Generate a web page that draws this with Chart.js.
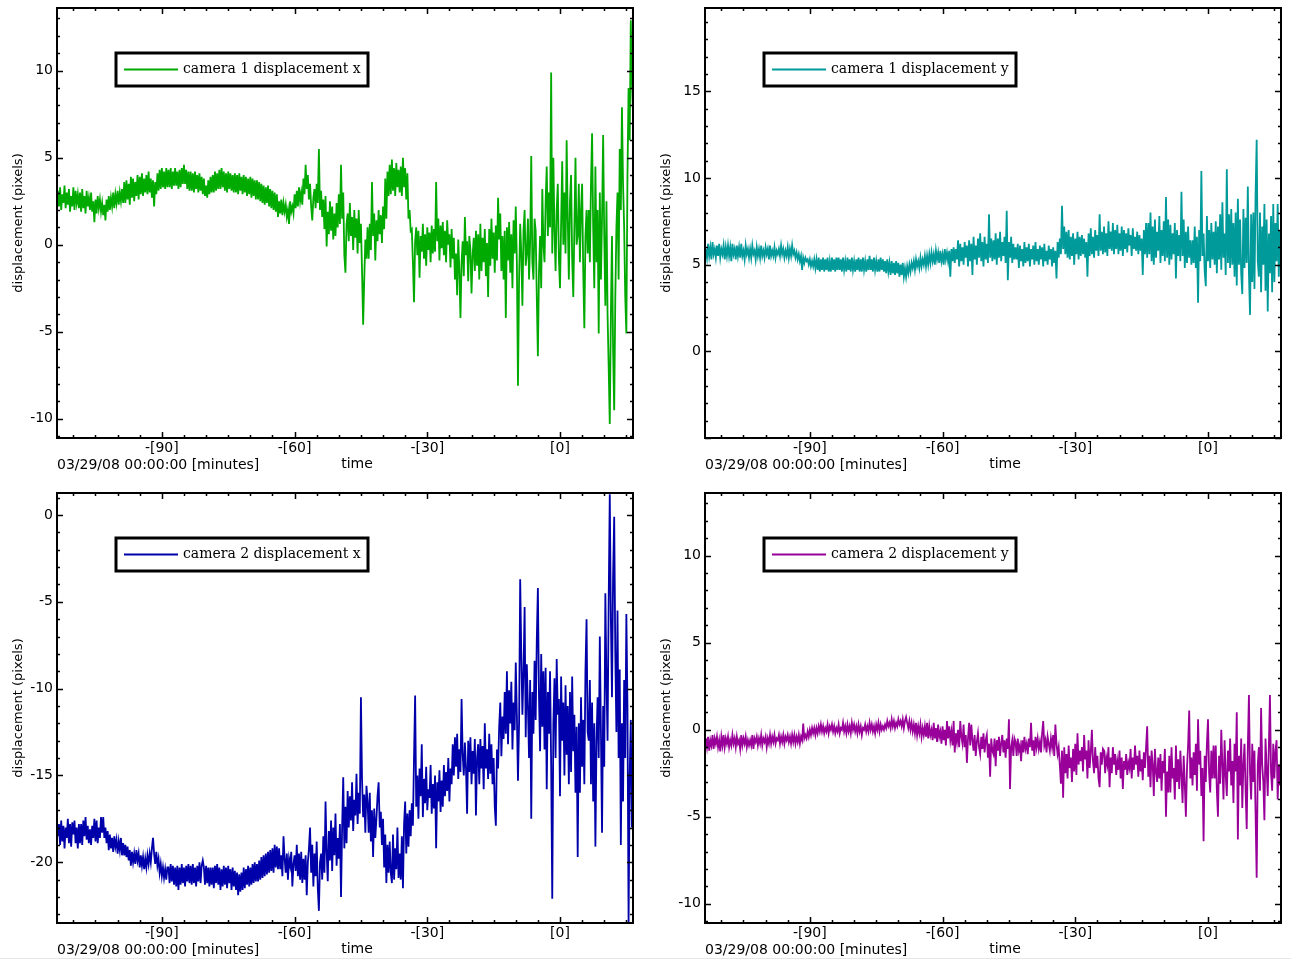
<!DOCTYPE html>
<html>
<head>
<meta charset="utf-8">
<script src="https://cdn.jsdelivr.net/npm/chart.js@4/dist/chart.umd.min.js"></script>
<style>
  html, body { margin: 0; padding: 0; background: #fff; }
  body { width: 1291px; height: 961px; position: relative; overflow: hidden; }
  canvas { position: absolute; }
  #c1 { left: 0; top: 0; }
  #c2 { left: 648px; top: 0; }
  #c3 { left: 0; top: 485px; }
  #c4 { left: 648px; top: 485px; }
  #edge { position: absolute; left: 0; top: 958px; width: 1291px; height: 1px; background: #e6e6e6; }
</style>
</head>
<body>
<canvas id="c1" width="640" height="475"></canvas>
<canvas id="c2" width="640" height="475"></canvas>
<canvas id="c3" width="640" height="475"></canvas>
<canvas id="c4" width="640" height="475"></canvas>
<div id="edge"></div>
<script>
// ---- time axis (minutes relative to 03/29/08 00:00:00) ----
const timeStart = -113.5;   // first sample
const timeStep = 0.25;      // one sample every 15 s
const xTickValues = [-90, -60, -30, 0];
const xRange = [-113.7, 16.5];
const xUnitLabel = '03/29/08 00:00:00 [minutes]';
const xTitle = 'time';
const yTitle = 'displacement (pixels)';

// ---- series labels ----
const seriesLabels = ['camera 1 displacement x', 'camera 1 displacement y', 'camera 2 displacement x', 'camera 2 displacement y'];

// ---- y tick labels per panel ----
const yTicks1 = [-10, -5, 0, 5, 10];
const yTicks2 = [0, 5, 10, 15];
const yTicks3 = [-20, -15, -10, -5, 0];
const yTicks4 = [-10, -5, 0, 5, 10];

// ---- series values (each row = 5 minutes, 20 samples) ----
const cam1X = [
  3.1, 2.2, 3.3, 2.0, 2.9, 2.4, 3.4, 2.1, 3.0, 2.3, 3.2, 1.9, 2.8, 2.2, 3.3, 2.0, 3.1, 2.4, 2.9, 2.1,
  3.0, 1.9, 3.2, 2.1, 2.8, 1.8, 3.1, 2.2, 2.7, 2.0, 3.0, 1.9, 2.5, 1.3, 2.6, 1.8, 2.8, 2.1, 2.6, 1.9,
  2.4, 1.7, 2.3, 1.4, 2.6, 1.9, 2.8, 2.0, 2.7, 2.2, 3.0, 2.1, 2.9, 2.4, 3.1, 2.3, 3.0, 2.5, 3.2, 2.4,
  3.6, 2.4, 3.7, 2.6, 3.5, 2.3, 3.9, 2.7, 3.8, 2.5, 3.6, 2.8, 4.0, 2.6, 3.9, 2.9, 4.1, 2.8, 3.8, 3.0,
  4.0, 2.9, 4.2, 3.0, 3.8, 2.7, 3.7, 2.2, 3.6, 2.9, 4.1, 3.1, 4.3, 3.2, 4.4, 3.3, 4.2, 3.2, 4.4, 3.3,
  4.3, 3.3, 4.4, 3.2, 4.2, 3.4, 4.4, 3.4, 4.2, 3.2, 4.3, 3.3, 4.4, 3.5, 4.6, 3.5, 4.3, 3.2, 4.2, 3.1,
  4.2, 3.1, 4.1, 3.0, 4.2, 3.2, 4.0, 3.0, 4.1, 3.1, 3.9, 2.9, 3.8, 2.8, 3.4, 2.7, 3.7, 2.9, 3.9, 3.0,
  4.0, 3.0, 4.2, 3.1, 4.1, 3.2, 4.3, 3.2, 4.4, 3.3, 4.2, 3.1, 4.1, 3.0, 4.2, 3.2, 4.1, 3.1, 4.0, 3.0,
  4.1, 3.0, 4.0, 2.9, 4.1, 3.1, 3.9, 2.9, 4.0, 3.0, 3.9, 2.8, 3.8, 2.9, 3.9, 2.7, 3.8, 2.8, 3.7, 2.6,
  3.7, 2.6, 3.6, 2.5, 3.5, 2.4, 3.4, 2.3, 3.3, 2.4, 3.4, 2.2, 3.2, 2.1, 3.1, 2.0, 3.0, 1.9, 2.9, 1.6,
  2.5, 1.8, 2.6, 1.7, 2.4, 1.9, 2.3, 1.6, 2.0, 1.2, 2.5, 1.9, 2.2, 1.8, 2.9, 2.1, 3.1, 2.2, 3.3, 2.5,
  3.0, 2.3, 3.8, 2.9, 4.6, 3.2, 4.0, 2.6, 3.5, 2.2, 1.4, 2.7, 3.2, 2.1, 3.5, 2.4, 5.5, 2.0, 3.1, 1.6,
  2.6, 0.9, 2.8, -0.1, 1.9, 0.6, 2.5, 0.8, 2.2, 0.3, 1.8, 0.5, 2.4, 1.0, 2.9, 1.2, 4.6, 1.5, 3.0, -0.6,
  -1.6, 1.2, 1.8, 0.2, 2.4, 0.5, 1.6, -0.3, 2.0, 0.4, 1.5, -0.5, 2.0, 0.1, 1.2, -1.5, -4.6, -2.0, 0.3, -0.8,
  1.0, -0.8, 1.2, -0.3, 3.6, 0.5, 1.8, -0.9, 1.4, 0.2, 2.0, 0.6, 1.7, 0.1, 2.2, 0.9, 3.8, 1.5, 4.2, 2.8,
  4.6, 2.9, 4.9, 3.1, 4.4, 2.8, 4.7, 3.3, 4.3, 3.0, 4.5, 2.8, 5.0, 3.3, 4.4, 2.6, 4.1, 1.5, 2.0, 0.8,
  0.9, -1.0, -3.3, 0.2, 1.0, -0.6, 0.8, -1.9, 0.5, -0.4, 1.2, -0.8, 0.6, -1.2, 1.0, -0.3, 0.7, -1.0, 1.1, -0.5,
  0.9, -0.4, 3.6, 0.2, 1.5, -0.9, 1.1, -0.2, 1.3, -0.6, 0.8, -1.0, 1.4, 0.0, 0.6, -1.3, 0.9, -0.8, 0.4, -2.0,
  -0.5, -2.9, 0.3, -1.5, -4.2, -1.0, 0.2, -1.8, 1.6, -0.6, 0.2, -2.1, 0.5, -0.3, -2.8, -0.6, 0.4, -1.5, 0.8, -1.2,
  0.6, -2.0, 1.2, -1.5, 0.4, -1.0, 0.9, -1.8, 0.1, -3.0, 0.9, -1.2, 1.5, -0.8, 0.7, -1.6, 1.1, -0.9, 2.7, 0.3,
  1.8, -1.5, 0.5, -2.0, 0.8, -4.2, 1.0, -0.9, 1.3, -1.6, 0.6, -2.5, 1.4, -0.5, 2.2, -1.0, -8.1, -2.0, 1.2, -0.5,
  -3.5, 0.8, 2.0, -1.2, -0.5, 1.5, -2.0, 0.2, 5.1, -1.0, -2.0, 1.5, 0.8, -3.0, -6.4, -1.5, 0.5, -2.5, 3.2, 0.0,
  -1.0, 2.5, 4.5, 0.5, 3.0, 1.0, 9.9, -0.5, 5.0, 0.8, -1.5, 2.0, 3.5, -0.8, -2.5, 1.2, 4.8, 0.0, 3.0, -0.5,
  6.0, 1.5, -2.0, 2.5, 4.0, -0.8, -3.0, 1.0, 5.0, 0.0, 0.5, 3.5, -1.0, 2.0, 3.5, -1.5, -4.8, 0.5, 2.0, -0.5,
  2.0, -1.0, 3.5, 6.4, 1.0, -2.5, 4.5, -1.0, 2.0, -5.1, 3.0, -2.0, 1.5, 6.3, 0.5, -3.5, 2.5, -4.0, -7.0, -10.3,
  -4.0, 0.5, -6.0, -9.5, -3.0, 1.0, 3.0, -2.0, 5.5, 2.0, 7.9, 3.5, 1.0, -3.0, -5.1, 4.0, 9.0, 6.0, 12.9, 9.5,
  7.5
];
const cam1Y = [
  5.9, 5.4, 6.2, 5.5, 6.0, 5.3, 6.3, 5.6, 5.9, 5.4, 6.1, 5.5, 6.2, 5.4, 5.9, 5.6, 6.1, 5.3, 6.0, 5.5,
  6.1, 5.5, 6.0, 5.2, 6.2, 5.6, 5.9, 5.3, 6.1, 5.5, 6.0, 5.4, 6.2, 5.5, 5.8, 5.3, 6.1, 5.6, 5.9, 5.4,
  5.9, 5.4, 6.1, 5.6, 5.8, 5.3, 6.0, 5.5, 5.9, 5.4, 6.1, 5.5, 5.8, 5.4, 6.0, 5.6, 5.9, 5.3, 6.1, 5.5,
  5.8, 5.5, 6.0, 5.4, 5.8, 5.6, 5.9, 5.5, 6.1, 5.6, 5.9, 5.4, 5.8, 5.5, 6.0, 5.4, 5.9, 5.5, 6.1, 5.6,
  5.8, 5.4, 5.7, 5.3, 5.6, 5.2, 5.5, 4.7, 5.4, 5.1, 5.4, 5.2, 5.3, 5.0, 5.3, 4.9, 5.2, 4.9, 5.3, 4.8,
  5.3, 4.7, 5.4, 4.6, 5.3, 4.7, 5.4, 4.6, 5.3, 4.7, 5.4, 4.6, 5.2, 4.6, 5.4, 4.7, 5.3, 4.6, 5.4, 4.7,
  5.4, 4.7, 5.3, 4.6, 5.4, 4.7, 5.2, 4.6, 5.4, 4.7, 5.3, 4.6, 5.4, 4.7, 5.2, 4.6, 5.3, 4.7, 5.4, 4.6,
  5.3, 4.6, 5.4, 4.7, 5.2, 4.6, 5.3, 4.7, 5.5, 4.7, 5.3, 4.6, 5.4, 4.7, 5.2, 4.6, 5.3, 4.6, 5.4, 4.7,
  5.3, 4.6, 5.2, 4.5, 5.3, 4.6, 5.1, 4.4, 5.2, 4.5, 5.1, 4.4, 5.2, 4.5, 5.1, 4.3, 5.0, 4.4, 5.1, 4.3,
  4.8, 4.3, 4.9, 4.5, 5.0, 4.6, 5.1, 4.8, 5.2, 4.7, 5.3, 4.9, 5.2, 4.8, 5.4, 4.9, 5.3, 5.0, 5.5, 4.9,
  5.5, 5.0, 5.6, 5.1, 5.7, 5.2, 5.6, 5.0, 5.8, 5.3, 5.7, 5.1, 5.8, 5.2, 5.6, 5.0, 5.9, 5.3, 5.7, 5.2,
  5.8, 4.3, 5.9, 5.2, 6.0, 5.1, 5.9, 5.3, 6.4, 4.9, 6.2, 5.2, 6.0, 5.0, 6.3, 5.4, 6.1, 4.9, 6.4, 5.2,
  6.2, 4.4, 6.6, 5.3, 6.1, 5.0, 6.5, 5.4, 6.8, 5.2, 6.3, 4.9, 6.6, 5.3, 6.2, 5.1, 7.9, 5.4, 6.5, 5.2,
  6.4, 5.3, 6.8, 5.0, 6.5, 5.4, 6.9, 5.2, 6.3, 5.5, 6.6, 5.1, 8.1, 4.1, 6.3, 5.4, 6.6, 5.1, 6.2, 5.3,
  6.0, 5.3, 6.2, 4.8, 6.1, 5.2, 5.9, 4.9, 6.3, 5.1, 6.0, 5.2, 6.2, 4.9, 5.9, 5.3, 6.1, 5.0, 6.3, 5.2,
  5.9, 5.0, 6.1, 5.3, 6.0, 4.9, 6.2, 5.2, 5.8, 5.0, 6.1, 5.3, 5.9, 4.9, 6.0, 5.1, 5.8, 4.2, 6.3, 5.4,
  6.5, 5.6, 8.4, 5.9, 7.2, 5.6, 6.9, 5.4, 7.0, 5.3, 6.6, 5.5, 6.8, 5.0, 6.5, 5.6, 6.9, 5.3, 6.6, 5.5,
  6.7, 5.6, 6.5, 5.4, 6.3, 4.3, 6.8, 5.5, 7.1, 5.6, 6.6, 5.4, 7.0, 5.8, 6.7, 5.5, 7.9, 5.8, 6.9, 5.6,
  7.2, 5.7, 6.8, 5.5, 7.5, 5.9, 6.9, 5.8, 7.4, 5.6, 7.0, 5.9, 7.3, 5.6, 6.8, 5.8, 7.2, 5.5, 7.0, 5.9,
  6.8, 5.7, 7.1, 6.1, 6.7, 5.5, 7.1, 5.9, 6.6, 5.8, 6.9, 5.6, 6.7, 5.8, 6.5, 4.4, 7.0, 5.6, 7.4, 5.4,
  7.4, 5.6, 8.0, 5.2, 7.2, 5.0, 7.6, 5.4, 6.9, 5.8, 7.8, 5.1, 7.0, 5.5, 7.5, 5.2, 8.9, 5.4, 7.6, 5.0,
  7.3, 5.3, 6.8, 5.6, 7.4, 4.2, 7.0, 5.5, 6.7, 5.2, 9.2, 5.5, 7.6, 4.8, 6.9, 5.1, 7.2, 5.4, 6.4, 5.0,
  6.4, 5.1, 7.2, 4.8, 6.6, 2.8, 7.0, 5.2, 10.4, 5.5, 6.8, 4.6, 3.75, 7.8, 5.2, 7.0, 4.8, 7.4, 5.3, 6.9,
  5.0, 7.5, 4.5, 7.2, 5.3, 7.9, 4.7, 8.6, 5.4, 6.8, 4.4, 10.5, 5.1, 7.9, 4.8, 8.2, 5.0, 7.4, 4.3, 8.0,
  3.8, 8.8, 5.0, 7.6, 4.5, 3.3, 8.2, 4.8, 7.7, 5.1, 9.5, 4.5, 2.1, 7.9, 4.0, 8.0, 3.6, 9.0, 12.2, 5.2,
  4.3, 8.0, 3.4, 7.2, 5.0, 8.5, 3.5, 7.6, 2.3, 6.8, 4.5, 7.8, 3.4, 8.5, 4.0, 7.4, 5.2, 8.5, 4.3, 7.0,
  5.5
];
const cam2X = [
  -18.5, -17.8, -19.0, -17.6, -18.8, -17.9, -19.2, -18.0, -18.6, -17.5, -18.9, -17.8, -19.1, -17.7, -18.4, -17.6, -18.9, -18.0, -19.2, -17.8,
  -18.9, -17.8, -19.0, -17.6, -18.5, -17.4, -18.7, -17.9, -18.9, -18.1, -19.0, -17.9, -18.6, -17.5, -18.8, -17.6, -18.9, -18.0, -18.6, -17.4,
  -18.3, -17.4, -18.6, -18.0, -18.9, -18.2, -19.3, -18.4, -19.2, -18.6, -19.4, -18.5, -19.1, -18.7, -19.5, -18.8, -19.3, -18.6, -19.6, -18.9,
  -19.6, -19.0, -19.7, -19.1, -19.9, -19.3, -20.2, -19.4, -20.0, -19.5, -20.1, -19.3, -19.9, -19.5, -20.3, -19.6, -20.2, -19.7, -20.4, -19.8,
  -20.3, -19.6, -20.1, -19.5, -20.0, -19.2, -18.6, -19.5, -20.1, -19.4, -20.2, -19.8, -20.6, -20.1, -20.8, -20.3, -20.9, -20.4, -21.0, -20.3,
  -20.3, -21.2, -20.1, -21.1, -20.2, -21.3, -20.3, -21.4, -20.2, -21.6, -20.3, -21.3, -20.1, -21.2, -20.3, -21.4, -20.2, -21.1, -20.1, -21.2,
  -20.2, -21.3, -20.1, -21.2, -20.3, -21.4, -20.2, -21.1, -20.0, -21.2, -20.2, -19.9, -20.3, -21.3, -20.2, -21.2, -20.3, -21.4, -20.3, -21.3,
  -20.3, -21.5, -20.2, -21.2, -20.1, -21.3, -20.3, -21.6, -20.4, -21.4, -20.2, -21.3, -20.3, -21.5, -20.2, -21.2, -20.4, -21.6, -20.3, -21.4,
  -20.5, -21.6, -20.6, -21.9, -20.7, -21.7, -20.6, -21.6, -20.3, -21.5, -20.4, -21.3, -20.2, -21.4, -20.3, -21.3, -20.1, -21.2, -20.0, -21.1,
  -20.1, -21.1, -19.9, -21.0, -19.7, -20.9, -19.6, -20.8, -19.5, -20.7, -19.4, -20.6, -19.3, -20.5, -19.2, -20.6, -19.0, -20.3, -19.1, -20.4,
  -19.2, -20.4, -19.6, -20.8, -18.5, -19.8, -20.6, -19.5, -21.0, -19.8, -20.2, -19.4, -21.4, -20.1, -19.6, -20.5, -19.0, -20.8, -19.5, -21.0,
  -19.4, -21.2, -19.8, -21.0, -19.6, -21.9, -20.0, -19.2, -18.0, -20.6, -19.0, -21.4, -19.5, -20.8, -18.8, -21.5, -22.8, -20.0, -19.5, -21.0,
  -18.5, -20.6, -16.5, -19.4, -21.1, -18.2, -19.9, -17.6, -20.5, -18.0, -19.6, -17.2, -20.2, -18.6, -19.8, -17.8, -22.0, -18.0, -15.1, -19.2,
  -16.8, -18.9, -15.9, -18.0, -16.2, -17.6, -15.4, -18.2, -16.4, -17.3, -14.9, -17.8, -16.0, -17.2, -10.5, -15.2, -17.4, -16.1, -18.3, -15.6,
  -16.5, -18.3, -16.0, -18.8, -17.0, -19.7, -16.9, -18.6, -17.5, -16.2, -15.4, -18.0, -17.1, -19.0, -17.5, -20.3, -18.4, -21.2, -19.0, -20.6,
  -18.8, -20.6, -21.2, -18.4, -21.0, -19.2, -20.4, -18.0, -20.9, -19.5, -21.0, -18.5, -21.5, -17.8, -16.5, -19.5, -17.2, -19.1, -17.0, -18.5,
  -16.6, -17.9, -14.0, -10.4, -16.8, -15.0, -17.5, -14.6, -16.2, -13.2, -17.4, -15.2, -16.6, -14.5, -17.0, -15.8, -16.3, -14.4, -17.2, -15.5,
  -16.9, -15.0, -19.2, -15.4, -16.5, -14.7, -17.1, -15.3, -16.8, -14.4, -16.2, -14.8, -15.9, -14.0, -16.5, -14.6, -15.5, -13.2, -15.0, -12.8,
  -14.5, -12.6, -15.2, -13.5, -14.8, -10.6, -13.8, -15.0, -13.1, -14.6, -17.2, -13.0, -14.8, -12.8, -15.5, -13.6, -14.9, -12.9, -17.3, -14.0,
  -13.2, -15.5, -12.9, -14.6, -13.3, -15.8, -12.0, -14.6, -13.5, -15.2, -12.6, -14.9, -13.2, -15.5, -14.0, -16.8, -17.9, -13.5, -14.6, -12.2,
  -10.8, -13.9, -11.6, -12.9, -10.2, -12.6, -9.0, -13.2, -10.1, -12.0, -9.6, -13.5, -10.8, -12.4, -8.5, -11.5, -15.3, -12.0, -3.7, -8.0,
  -11.5, -9.0, -5.3, -12.8, -8.6, -11.0, -14.0, -9.5, -17.5, -10.2, -12.6, -8.4, -11.8, -7.2, -4.2, -10.5, -13.6, -8.0, -12.2, -9.0,
  -13.5, -8.8, -15.8, -10.2, -12.6, -9.0, -14.4, -22.1, -12.0, -9.4, -14.0, -8.3, -11.5, -10.6, -16.2, -9.3, -13.0, -10.8, -15.0, -9.8,
  -13.8, -11.0, -15.5, -10.2, -14.8, -9.3, -13.6, -11.5, -16.0, -12.2, -19.7, -12.0, -16.0, -10.5, -14.5, -11.8, -15.5, -9.0, -6.0, -12.5,
  -13.0, -9.5, -15.5, -10.8, -16.5, -12.0, -19.1, -13.0, -10.5, -14.0, -7.0, -12.5, -18.3, -11.0, -14.5, -4.5, -9.5, -13.0, -5.0, 1.2,
  -6.0, -10.5, -3.5, -0.1, -8.0, -12.5, -5.5, -14.0, -8.9, -19.0, -12.0, -16.5, -9.5, -14.0, -5.7, -11.0, -23.5, -15.0, -11.8, -18.0,
  -17.0
];
const cam2Y = [
  -0.5, -1.0, -0.4, -1.2, -0.6, -0.9, -0.3, -1.1, -0.5, -0.8, -0.4, -1.0, -0.6, -1.25, -0.4, -0.9, -0.3, -1.0, -0.5, -0.8,
  -0.4, -1.0, -0.6, -0.9, -0.3, -0.8, -0.5, -1.0, -0.4, -0.8, -0.6, -1.1, -0.3, -0.9, -0.5, -0.8, -0.4, -1.0, -0.6, -0.9,
  -0.6, -0.9, -0.3, -1.1, -0.5, -0.7, -0.4, -0.9, -0.5, -0.8, -0.3, -0.9, -0.5, -0.7, -0.4, -1.0, -0.5, -0.8, -0.3, -0.8,
  -0.4, -0.7, -0.3, -0.8, -0.5, -0.6, -0.3, -0.8, -0.4, -0.7, -0.3, -0.8, -0.4, -0.6, -0.3, -0.7, -0.4, -0.8, -0.3, -0.7,
  -0.3, -0.8, -0.4, -0.7, -0.3, -0.8, -0.4, -0.6, 0.35, -0.5, -0.3, -0.5, -0.1, -0.4, 0.0, -0.3, 0.1, -0.2, 0.1, -0.3,
  0.1, -0.2, 0.2, -0.1, 0.3, -0.1, 0.2, -0.2, 0.1, -0.1, 0.3, -0.2, 0.2, 0.0, 0.3, -0.1, 0.2, -0.2, 0.1, -0.1,
  0.3, -0.2, 0.1, 0.0, 0.4, -0.1, 0.2, -0.2, 0.3, -0.1, 0.2, -0.2, 0.4, 0.0, 0.3, -0.1, 0.2, -0.2, 0.3, -0.1,
  0.2, -0.3, 0.1, 0.0, 0.3, -0.1, 0.2, -0.1, 0.4, 0.0, 0.3, -0.1, 0.2, -0.2, 0.3, 0.0, 0.4, -0.1, 0.3, 0.0,
  0.2, 0.0, 0.3, 0.1, 0.5, 0.2, 0.4, 0.1, 0.6, 0.2, 0.5, 0.1, 0.4, 0.2, 0.6, 0.3, 0.5, 0.2, 0.6, 0.1,
  0.5, 0.73, 0.4, 0.1, 0.5, 0.0, 0.4, -0.1, 0.3, -0.2, 0.4, -0.3, 0.2, -0.2, 0.3, -0.4, 0.1, -0.3, 0.2, -0.4,
  0.4, -0.5, 0.2, -0.3, 0.0, -0.6, 0.4, -0.5, 0.1, -0.7, 0.3, -0.4, -0.1, -0.8, 0.2, -0.6, 0.0, -0.9, 0.5, -0.5,
  0.2, -0.6, -0.1, -0.9, 0.5, -1.3, -0.2, -0.7, 0.0, -1.0, 0.5, -0.4, -0.8, 0.3, -1.0, -0.3, -1.9, -0.5, 0.4, -0.9,
  0.3, -0.6, -1.2, -0.3, -1.5, -0.7, -0.2, -1.0, -1.4, -0.4, -1.1, -0.2, -1.3, -0.6, -0.3, -1.6, -0.8, -2.7, -0.5, -1.2,
  -1.4, -0.5, -2.1, -0.6, -1.2, -0.4, -1.5, -0.8, -0.3, -1.3, -0.6, -1.6, -0.5, -1.1, 0.6, -3.4, -1.0, -0.6, -1.5, -0.5,
  -0.7, -1.5, -0.5, -1.2, -0.9, -1.8, -0.6, -1.3, -0.4, -1.1, -0.8, -1.4, -0.5, -1.0, 0.4, -1.2, -0.6, -1.5, -0.4, -1.0,
  -0.5, -1.1, -0.7, -1.3, -0.2, 0.5, -0.9, -0.6, -1.3, -0.4, -0.8, -1.2, -0.5, -1.0, -0.3, -1.5, 0.3, -0.8, -1.4, -1.0,
  -2.0, -3.1, -1.2, -3.9, -1.0, -2.5, -1.4, -2.8, -0.9, -2.2, -1.6, -3.0, -1.1, -2.4, -0.8, -2.6, -0.2, -2.0, -1.2, -1.8,
  -1.0, -2.4, -0.3, -1.7, -1.2, -2.8, -0.6, -2.2, -1.3, 0.0, -1.8, -2.5, -1.0, -2.2, -1.5, -2.8, -3.3, -1.3, -2.0, -1.1,
  -1.2, -2.5, -1.6, -2.0, -1.0, -3.3, -1.6, -2.5, -1.0, -2.0, -1.4, -2.6, -1.8, -2.3, -1.2, -2.8, -1.6, -3.4, -1.8, -2.3,
  -1.4, -2.6, -1.9, -2.2, -1.1, -2.8, -1.6, -2.3, -0.9, -2.0, -1.5, -2.7, -1.2, -2.4, -1.7, -2.9, -1.3, -2.2, -1.0, 0.2,
  -2.7, -1.5, -3.3, -1.2, -2.0, -3.8, -1.1, -2.4, -3.0, -1.6, -2.8, -1.4, -3.5, -1.8, -2.5, -1.1, -5.0, -2.4, -3.6, -1.5,
  -3.6, -1.0, -2.8, -2.2, -4.0, -0.9, -3.0, -1.7, -3.4, -1.2, -2.6, -4.2, -1.5, -3.1, -5.0, -2.2, -0.9, 1.1, -2.8, -1.6,
  -3.2, -1.3, -2.6, -0.8, -3.5, 0.6, -2.0, -1.2, -3.8, -2.2, -6.4, -1.5, -3.0, -0.8, 0.6, -2.5, -3.6, -1.2, -2.8, -0.9,
  -2.8, -0.9, -3.5, -5.0, -1.5, -3.1, 0.0, -2.0, -4.0, -0.6, -2.6, -3.8, -1.2, -2.4, -0.5, -3.2, -1.8, -4.2, -0.8, -2.4,
  1.0, -6.3, -1.5, -3.2, -0.5, -4.5, -2.0, -0.8, -3.5, -5.7, -1.0, 2.0, -2.5, -4.0, -0.8, -3.0, -1.2, -4.8, -8.5, -2.0,
  -1.0, -3.5, 1.25, -2.0, -3.0, -5.2, -0.5, -2.2, -3.8, -1.0, 2.0, -2.5, -3.5, -0.8, -2.8, -1.2, -0.6, -4.0, -2.0, -3.2,
  -1.5
];

const seriesColors = ['#00aa00', '#009a9a', '#0000aa', '#990099'];

const tickFont = { family: 'DejaVu Sans', size: 14 };
const titleFont = { family: 'DejaVu Sans', size: 13 };
const legendFont = '14px "DejaVu Serif"';
const footFont = '14px "DejaVu Sans"';

function fmtX(v) { return v < 0 ? '-[' + Math.abs(v) + ']' : '[' + v + ']'; }

const framePlugin = {
  id: 'frame',
  afterDatasetsDraw(chart) {
    const ctx = chart.ctx;
    const a = chart.chartArea;
    const xs = chart.scales.x, ys = chart.scales.y;
    ctx.save();
    ctx.strokeStyle = '#000';
    ctx.lineWidth = 1.5;
    ctx.beginPath();
    for (let v = Math.ceil(xs.min / 5) * 5; v <= xs.max; v += 5) {
      const len = xTickValues.includes(v) ? 6 : 3;
      const px = Math.round(xs.getPixelForValue(v)) + 0.5;
      ctx.moveTo(px, a.bottom); ctx.lineTo(px, a.bottom - len);
      ctx.moveTo(px, a.top); ctx.lineTo(px, a.top + len);
    }
    for (let v = Math.ceil(ys.min); v <= ys.max; v += 1) {
      const len = v % 5 === 0 ? 6 : 3;
      const py = Math.round(ys.getPixelForValue(v)) + 0.5;
      ctx.moveTo(a.left, py); ctx.lineTo(a.left + len, py);
      ctx.moveTo(a.right, py); ctx.lineTo(a.right - len, py);
    }
    ctx.stroke();
    ctx.lineWidth = 2;
    ctx.strokeRect(a.left, a.top, a.right - a.left, a.bottom - a.top);

    // legend box
    const ds = chart.data.datasets[0];
    const lx = a.left + 59, ly = a.top + 45, lw = 252, lh = 33;
    ctx.fillStyle = '#fff';
    ctx.fillRect(lx, ly, lw, lh);
    ctx.lineWidth = 3;
    ctx.strokeRect(lx, ly, lw, lh);
    ctx.strokeStyle = ds.borderColor;
    ctx.lineWidth = 2;
    ctx.beginPath();
    ctx.moveTo(lx + 8, ly + lh / 2);
    ctx.lineTo(lx + 62, ly + lh / 2);
    ctx.stroke();
    ctx.fillStyle = '#000';
    ctx.font = legendFont;
    ctx.textBaseline = 'middle';
    ctx.textAlign = 'left';
    ctx.fillText(ds.label, lx + 67, ly + lh / 2);

    // x axis texts
    ctx.font = footFont;
    ctx.textAlign = 'left';
    ctx.fillText(xUnitLabel, a.left, a.bottom + 27);
    ctx.textAlign = 'center';
    ctx.fillText(xTitle, a.left + 300, a.bottom + 26);
    ctx.restore();
  }
};

function makeChart(id, values, color, label, yMin, yMax, yTickValues) {
  const points = values.map((v, i) => ({ x: timeStart + i * timeStep, y: v }));
  return new Chart(document.getElementById(id), {
    type: 'line',
    data: {
      datasets: [{
        label: label,
        data: points,
        borderColor: color,
        backgroundColor: color,
        borderWidth: 1.8,
        pointRadius: 0,
        tension: 0,
        fill: false
      }]
    },
    options: {
      responsive: false,
      animation: false,
      devicePixelRatio: 1,
      layout: { padding: { top: 8, right: 7, left: 0, bottom: 0 } },
      plugins: { legend: { display: false }, tooltip: { enabled: false } },
      scales: {
        x: {
          type: 'linear',
          min: xRange[0],
          max: xRange[1],
          afterBuildTicks: s => { s.ticks = xTickValues.map(v => ({ value: v })); },
          afterFit: s => { s.height = 37; s.paddingLeft = 0; s.paddingRight = 0; },
          grid: { display: false, drawTicks: false },
          border: { display: false },
          ticks: { font: tickFont, color: '#000', padding: 2, maxRotation: 0, autoSkip: false, callback: v => fmtX(v) }
        },
        y: {
          type: 'linear',
          min: yMin,
          max: yMax,
          afterBuildTicks: s => { s.ticks = yTickValues.map(v => ({ value: v })); },
          afterFit: s => { s.width = 57; s.paddingTop = 0; s.paddingBottom = 0; },
          grid: { display: false, drawTicks: false },
          border: { display: false },
          title: { display: true, text: yTitle, font: titleFont, color: '#000', padding: { top: 11, bottom: 0 } },
          ticks: { font: tickFont, color: '#000', padding: 4, autoSkip: false, callback: v => String(v) }
        }
      }
    },
    plugins: [framePlugin]
  });
}

makeChart('c1', cam1X, seriesColors[0], seriesLabels[0], -11.1, 13.6, yTicks1);
makeChart('c2', cam1Y, seriesColors[1], seriesLabels[1], -5.0, 19.8, yTicks2);
makeChart('c3', cam2X, seriesColors[2], seriesLabels[2], -23.5, 1.27, yTicks3);
makeChart('c4', cam2Y, seriesColors[3], seriesLabels[3], -11.1, 13.6, yTicks4);
</script>
</body>
</html>
